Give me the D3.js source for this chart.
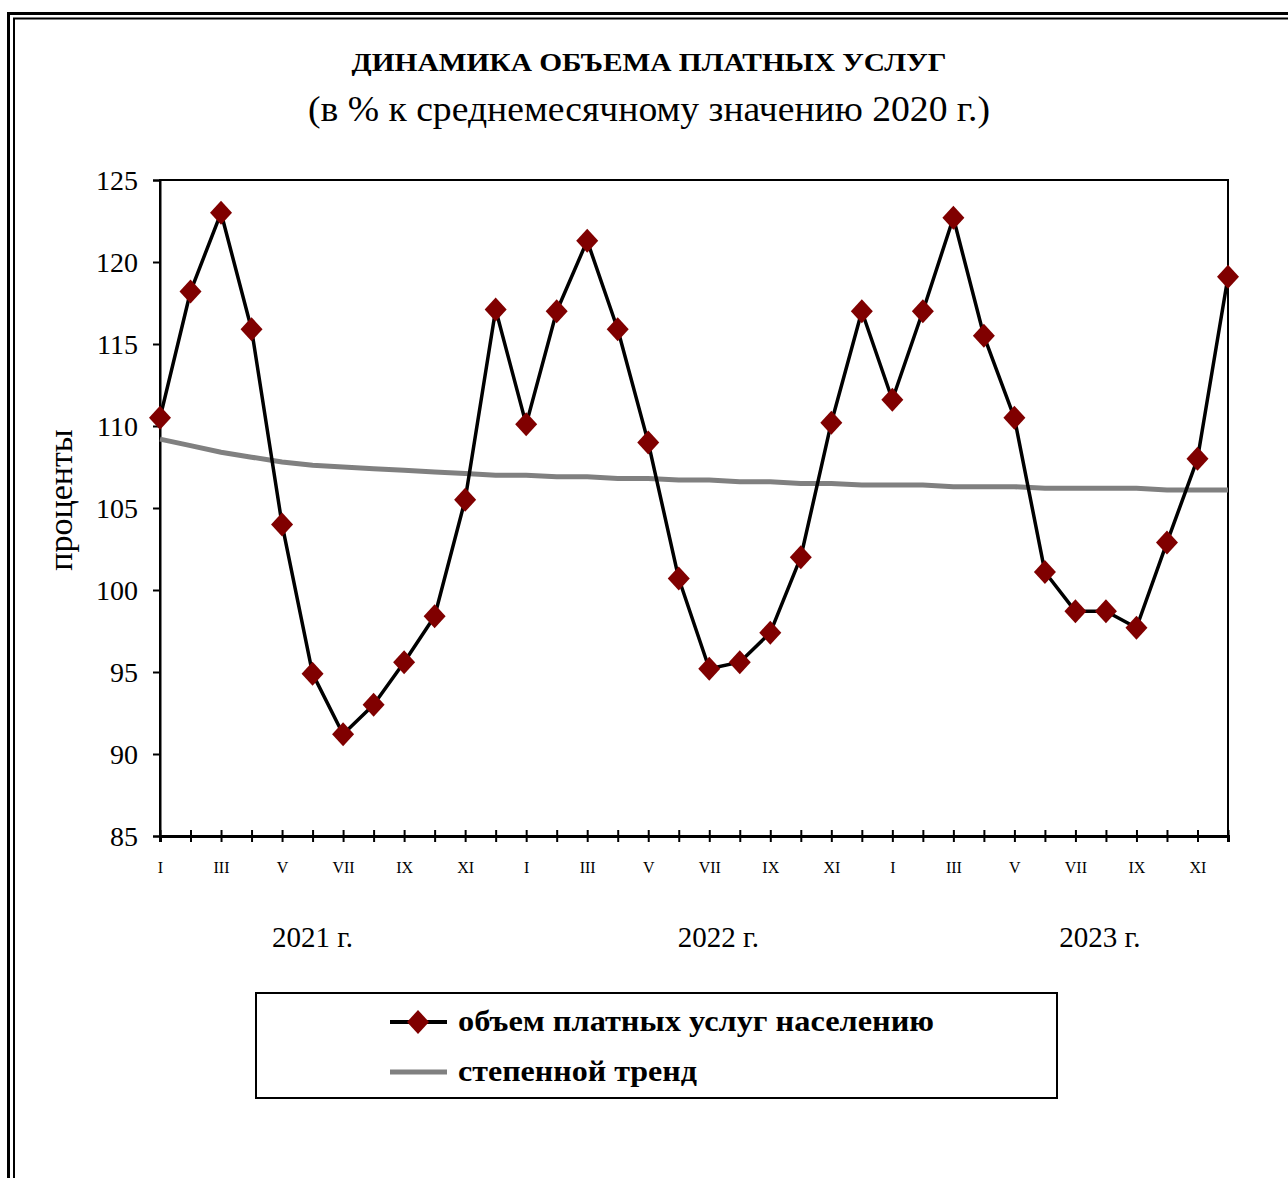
<!DOCTYPE html>
<html>
<head>
<meta charset="utf-8">
<script src="https://cdn.jsdelivr.net/npm/d3@7"></script>
<style>
  body { margin: 0; background: #fff; }
  svg text { font-family: "Liberation Serif", "Times New Roman", serif; }
</style>
</head>
<body>
<svg id="chart" width="1288" height="1178"></svg>
<script>
// months 2021-2023
var months = ["I","II","III","IV","V","VI","VII","VIII","IX","X","XI","XII",
              "I","II","III","IV","V","VI","VII","VIII","IX","X","XI","XII",
              "I","II","III","IV","V","VI","VII","VIII","IX","X","XI","XII"];
var years = ["2021 г.", "2022 г.", "2023 г."];
var yearPos = [5, 18.3, 30.8];

// объем платных услуг населению, % к среднемесячному 2020
var services = [110.5, 118.2, 123.0, 115.9, 104.0, 94.9, 91.2, 93.0, 95.6, 98.4, 105.5, 117.1,
                110.1, 117.0, 121.3, 115.9, 109.0, 100.7, 95.2, 95.6, 97.4, 102.0, 110.2, 117.0,
                111.6, 117.0, 122.7, 115.5, 110.5, 101.1, 98.7, 98.7, 97.7, 102.9, 108.0, 119.1];

// степенной тренд
var trend = [109.2, 108.8, 108.4, 108.1, 107.8, 107.6, 107.5, 107.4, 107.3, 107.2, 107.1, 107.0,
             107.0, 106.9, 106.9, 106.8, 106.8, 106.7, 106.7, 106.6, 106.6, 106.5, 106.5, 106.4,
             106.4, 106.4, 106.3, 106.3, 106.3, 106.2, 106.2, 106.2, 106.2, 106.1, 106.1, 106.1];

var yTicks = [85, 90, 95, 100, 105, 110, 115, 120, 125];
var legendNames = ["объем платных услуг населению", "степенной тренд"];

var svg = d3.select("#chart");

// double frame (goes past right and bottom edges)
svg.append("rect").attr("x", 8.5).attr("y", 13.5).attr("width", 1400).attr("height", 1400)
    .attr("fill", "none").attr("stroke", "#000").attr("stroke-width", 3);
svg.append("rect").attr("x", 14).attr("y", 18.5).attr("width", 1400).attr("height", 1400)
    .attr("fill", "none").attr("stroke", "#000").attr("stroke-width", 2);

// titles
svg.append("text").attr("x", 649).attr("y", 71).attr("text-anchor", "middle")
    .attr("font-size", 25).attr("font-weight", "bold")
    .attr("textLength", 595).attr("lengthAdjust", "spacingAndGlyphs")
    .text("ДИНАМИКА ОБЪЕМА ПЛАТНЫХ УСЛУГ");
svg.append("text").attr("x", 649).attr("y", 121).attr("text-anchor", "middle")
    .attr("font-size", 35)
    .attr("textLength", 682).attr("lengthAdjust", "spacingAndGlyphs")
    .text("(в % к среднемесячному значению 2020 г.)");

var plotL = 160, plotR = 1228, plotT = 180, plotB = 836;

var x = d3.scaleLinear().domain([0, months.length - 1]).range([plotL, plotR]);
var y = d3.scaleLinear().domain([85, 125]).range([plotB, plotT]);

// plot box
svg.append("rect").attr("x", plotL).attr("y", plotT)
    .attr("width", plotR - plotL).attr("height", plotB - plotT)
    .attr("fill", "none").attr("stroke", "#000").attr("stroke-width", 2);

// y axis
var yAxis = svg.append("g").attr("transform", "translate(" + plotL + ",0)")
    .call(d3.axisLeft(y).tickValues(yTicks).tickSize(7).tickPadding(15));
yAxis.select(".domain").attr("stroke-width", 2);
yAxis.selectAll(".tick line").attr("stroke-width", 2);
yAxis.selectAll(".tick text").attr("font-size", 28).attr("font-family", "Liberation Serif")
    .attr("fill", "#000").attr("dy", "0.34em");

svg.append("text")
    .attr("transform", "translate(72,500) rotate(-90)")
    .attr("text-anchor", "middle").attr("font-size", 34)
    .text("проценты");

// x axis
var xAxis = svg.append("g").attr("transform", "translate(0," + plotB + ")")
    .call(d3.axisBottom(x).tickValues(d3.range(months.length)).tickSize(6).tickPadding(20)
        .tickFormat(function (i) { return i % 2 === 0 ? months[i] : ""; }));
xAxis.select(".domain").attr("stroke-width", 3);
xAxis.selectAll(".tick line").attr("y1", -6).attr("y2", 6).attr("stroke-width", 2);
xAxis.selectAll(".tick text").attr("font-size", 16).attr("font-family", "Liberation Serif")
    .attr("fill", "#000");

svg.selectAll(".year").data(years).enter().append("text")
    .attr("class", "year")
    .attr("x", function (d, i) { return x(yearPos[i]); })
    .attr("y", 947).attr("text-anchor", "middle").attr("font-size", 29)
    .text(function (d) { return d; });

// trend
var line = d3.line().x(function (d, i) { return x(i); }).y(function (d) { return y(d); });
svg.append("path").datum(trend).attr("d", line)
    .attr("fill", "none").attr("stroke", "#808080").attr("stroke-width", 5);

// data line
svg.append("path").datum(services).attr("d", line)
    .attr("fill", "none").attr("stroke", "#000").attr("stroke-width", 3.5)
    .attr("stroke-linejoin", "round");

var diamond = "M0,-12L11,0L0,12L-11,0Z";
svg.selectAll(".pt").data(services).enter().append("path")
    .attr("class", "pt")
    .attr("transform", function (d, i) { return "translate(" + x(i) + "," + y(d) + ")"; })
    .attr("d", diamond).attr("fill", "#800000");

// legend
var lg = svg.append("g");
lg.append("rect").attr("x", 256).attr("y", 993).attr("width", 801).attr("height", 105)
    .attr("fill", "#fff").attr("stroke", "#000").attr("stroke-width", 2);
lg.append("line").attr("x1", 390).attr("x2", 447).attr("y1", 1022).attr("y2", 1022)
    .attr("stroke", "#000").attr("stroke-width", 4);
lg.append("path").attr("transform", "translate(418,1022)").attr("d", diamond).attr("fill", "#800000");
lg.append("line").attr("x1", 390).attr("x2", 447).attr("y1", 1072).attr("y2", 1072)
    .attr("stroke", "#808080").attr("stroke-width", 5);
lg.selectAll(".lt").data(legendNames).enter().append("text")
    .attr("class", "lt")
    .attr("x", 458).attr("y", function (d, i) { return 1031 + i * 50; })
    .attr("font-size", 29).attr("font-weight", "bold")
    .attr("textLength", function (d, i) { return i === 0 ? 476 : 239; })
    .attr("lengthAdjust", "spacingAndGlyphs")
    .text(function (d) { return d; });
</script>
</body>
</html>
